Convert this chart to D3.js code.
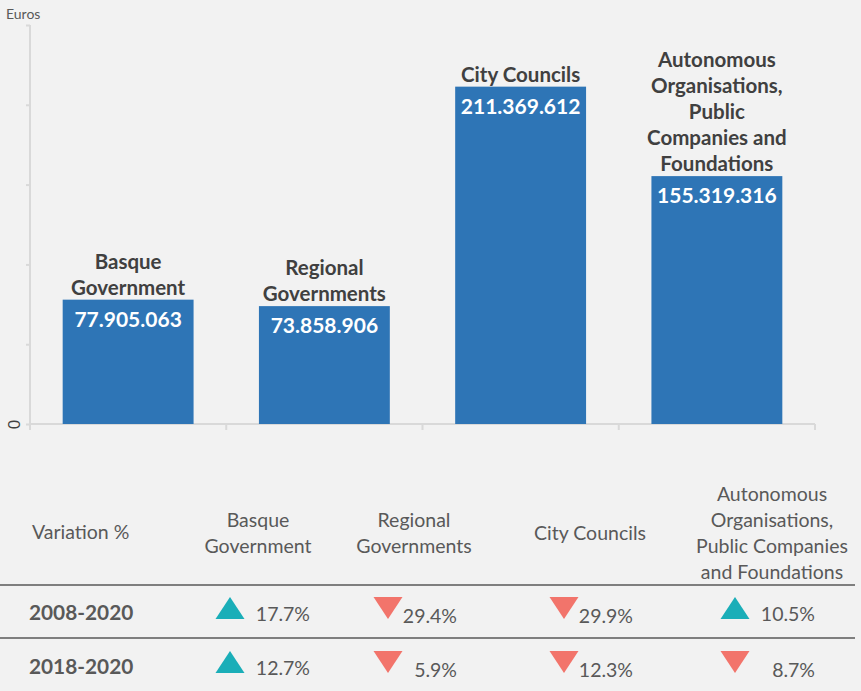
<!DOCTYPE html>
<html><head><meta charset="utf-8">
<script src="https://cdn.jsdelivr.net/npm/d3@7"></script>
<style>
html,body{margin:0;padding:0;background:#f2f2f2;}
svg{display:block;font-family:Lato,"Open Sans",sans-serif;}
</style></head>
<body><svg id="c" width="861" height="691"></svg>
<script>
const categories = ["Basque Government","Regional Governments","City Councils","Autonomous Organisations, Public Companies and Foundations"];
const categoryLines = [["Basque","Government"],["Regional","Governments"],["City Councils"],["Autonomous","Organisations,","Public","Companies and","Foundations"]];
const values = [77905063, 73858906, 211369612, 155319316];
const valueLabels = ["77.905.063","73.858.906","211.369.612","155.319.316"];
const yTicks = [0, 50000000, 100000000, 150000000, 200000000, 250000000];
const headerLines = [["Basque","Government"],["Regional","Governments"],["City Councils"],["Autonomous","Organisations,","Public Companies","and Foundations"]];
const periods = ["2008-2020","2018-2020"];
const var2008_2020 = [17.7, -29.4, -29.9, 10.5];
const var2018_2020 = [12.7, -5.9, -12.3, -8.7];
const variations = [var2008_2020, var2018_2020];

const svg = d3.select("#c");
const txt = "#404040";
const grey = "#595959";

const x = d3.scaleBand().domain(categories).range([30, 815]).paddingInner(0.333).paddingOuter(0.1665);
const y = d3.scaleLinear().domain([0, 250000000]).range([424, 25]);

// y axis
const yAxis = svg.append("g").attr("transform","translate(30,0)")
  .call(d3.axisLeft(y).tickValues(yTicks).tickSize(4).tickFormat(d => d===0 ? "0" : ""));
yAxis.select(".domain").attr("stroke","#d9d9d9").attr("stroke-width",2).attr("d","M0,25V428");
yAxis.selectAll(".tick line").attr("stroke","#d9d9d9").attr("stroke-width",2);
yAxis.selectAll(".tick text").attr("fill",txt).attr("font-size",17)
  .attr("text-anchor","middle").attr("dy","0.35em")
  .attr("transform","translate(-16,0) rotate(-90)").attr("y",0).attr("x",0);

svg.append("text").attr("x",6).attr("y",19).attr("font-size",14).attr("fill",grey).text("Euros");

// x axis
const xBounds = [30].concat(categories.map(c => x(c)+x.bandwidth()+x.step()*x.paddingInner()/2));
svg.append("line").attr("x1",30).attr("x2",815).attr("y1",424).attr("y2",424).attr("stroke","#d9d9d9").attr("stroke-width",2);
svg.selectAll(".xt").data(xBounds).join("line").attr("x1",d=>d).attr("x2",d=>d).attr("y1",424).attr("y2",430)
  .attr("stroke","#d9d9d9").attr("stroke-width",2);

// bars
svg.selectAll(".bar").data(values).join("rect")
  .attr("x",(d,i)=>x(categories[i])).attr("width",x.bandwidth())
  .attr("y",d=>y(d)).attr("height",d=>y(0)-y(d)).attr("fill","#2e75b6");

// value labels
svg.selectAll(".vl").data(values).join("text")
  .attr("x",(d,i)=>x(categories[i])+x.bandwidth()/2).attr("y",d=>y(d)+27)
  .attr("text-anchor","middle").attr("fill","#fff").attr("font-weight","bold").attr("font-size",21)
  .text((d,i)=>valueLabels[i]);

// category labels
values.forEach((v,i)=>{
  const lines = categoryLines[i];
  const cx = x(categories[i])+x.bandwidth()/2;
  const lastY = y(v) - 5;
  lines.forEach((l,j)=>{
    svg.append("text").attr("x",cx).attr("y",lastY-(lines.length-1-j)*26)
      .attr("text-anchor","middle").attr("fill",txt).attr("font-weight","bold").attr("font-size",20.5).text(l);
  });
});

// table
const colX = d3.scaleOrdinal().domain(categories).range([258,414,590,772]);
const triX = d3.scaleOrdinal().domain(categories).range([230,388,564,735]);
const valEnd = d3.scaleOrdinal().domain(categories).range([310,457,633,815]);
svg.append("text").attr("x",32).attr("y",539).attr("font-size",19.5).attr("fill",grey).text("Variation %");
headerLines.forEach((lines,i)=>{
  const cx = colX(categories[i]);
  const mid = 533;
  lines.forEach((l,j)=>{
    svg.append("text").attr("x",cx).attr("y",mid+7+(j-(lines.length-1)/2)*26)
      .attr("text-anchor","middle").attr("font-size",19.5).attr("fill",grey).text(l);
  });
});
[585,638].forEach(yy=>svg.append("line").attr("x1",0).attr("x2",855).attr("y1",yy).attr("y2",yy).attr("stroke",grey).attr("stroke-width",1.5));
const rowY = d3.scalePoint().domain(periods).range([612,666]);
periods.forEach((p,r)=>{
  const ry = rowY(p);
  svg.append("text").attr("x",29).attr("y",ry+8).attr("font-size",20.8).attr("font-weight","bold").attr("fill",grey).text(p);
  variations[r].forEach((v,i)=>{
    const c = categories[i];
    const up = v>0;
    const tx = triX(c), ty = ry - 4;
    const path = up ? `M${tx-14.5},${ty+11}L${tx},${ty-11}L${tx+14.5},${ty+11}Z` : `M${tx-14.5},${ty-11}L${tx},${ty+11}L${tx+14.5},${ty-11}Z`;
    svg.append("path").attr("d",path).attr("fill", up ? "#1aaeb8" : "#f2746b");
    svg.append("text").attr("x",valEnd(c)).attr("y",ry+(up?9:11)).attr("text-anchor","end")
      .attr("font-size",19.5).attr("fill",grey).text(Math.abs(v).toFixed(1)+"%");
  });
});
</script></body></html>
